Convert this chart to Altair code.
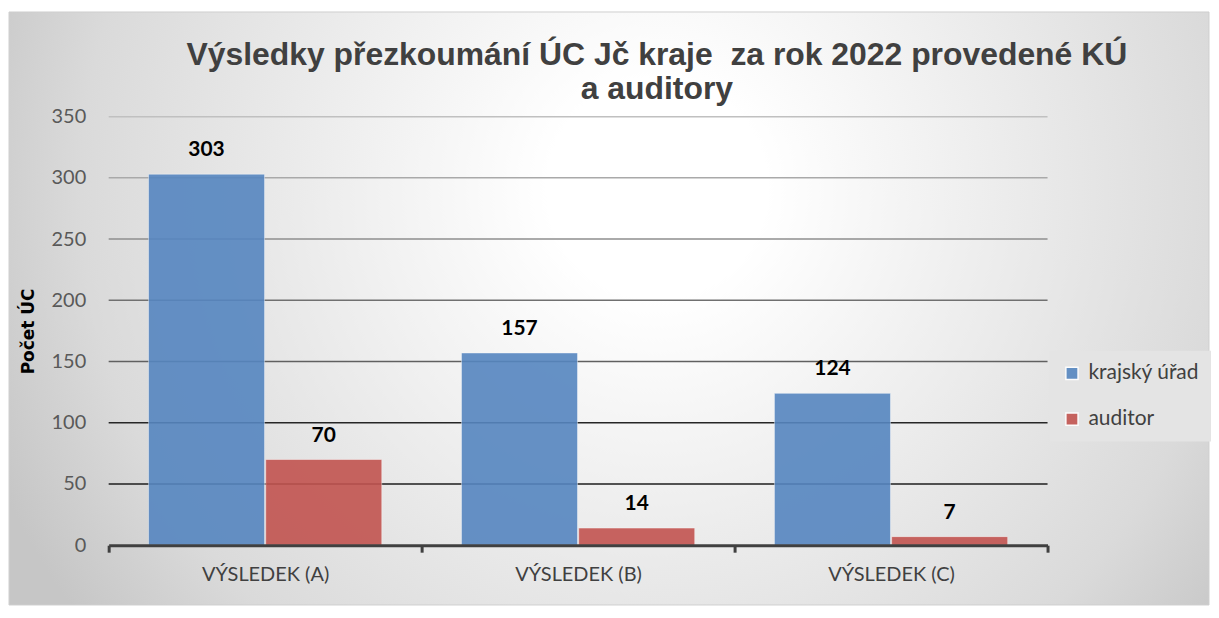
import altair as alt
import pandas as pd

CATEGORIES = ["VÝSLEDEK (A)", "VÝSLEDEK (B)", "VÝSLEDEK (C)"]
SERIES = ["krajský úřad", "auditor"]
KRAJSKY_URAD = [303, 157, 124]
AUDITOR = [70, 14, 7]
Y_TICKS = [0, 50, 100, 150, 200, 250, 300, 350]
TITLE_LINES = ["Výsledky přezkoumání ÚC Jč kraje \u00a0za rok 2022 provedené KÚ", "a auditory"]
Y_TITLE = "Počet ÚC"

rows = []
for i, c in enumerate(CATEGORIES):
    rows.append({"kat": c, "serie": SERIES[0], "pocet": KRAJSKY_URAD[i]})
    rows.append({"kat": c, "serie": SERIES[1], "pocet": AUDITOR[i]})
df = pd.DataFrame(rows)
grid_df = pd.DataFrame({"v": Y_TICKS[1:]})
one = pd.DataFrame({"k": [0]})

W, H = 942, 430
FONT = "Lato"

x_scale = alt.Scale(domain=CATEGORIES, paddingInner=0, paddingOuter=0)
y_scale = alt.Scale(domain=[0, 350], nice=False)
off_scale = alt.Scale(domain=SERIES, paddingOuter=0.34, paddingInner=0.01)

x_axis = alt.Axis(
    title=None, labelAngle=0, tickBand="extent", tickSize=7, tickWidth=3,
    tickColor="#404040", domainColor="#404040", domainWidth=3,
    labelFont=FONT, labelFontSize=20, labelColor="#404040", labelPadding=12,
    grid=False, zindex=1,
)
y_axis = alt.Axis(
    values=Y_TICKS, grid=False, domain=False, ticks=False,
    labelFont=FONT, labelFontSize=20, labelColor="#595959", labelPadding=23,
    title=Y_TITLE, titleFont="DejaVu Sans", titleFontSize=17, titleFontWeight="bold",
    titleColor="black", titleX=-75, titleY=215, titleAngle=270,
    titleBaseline="alphabetic", titleAlign="center", zindex=1,
)

bg = alt.Chart(one).mark_rect(
    fill=alt.Gradient(
        gradient="radial",
        stops=[
            alt.GradientStop(color="#ffffff", offset=0),
            alt.GradientStop(color="#ffffff", offset=0.15),
            alt.GradientStop(color="#dadada", offset=0.8),
            alt.GradientStop(color="#c6c6c6", offset=1),
        ],
        x1=0.54, y1=0.40, r1=0, x2=0.54, y2=0.40, r2=0.6,
    ),
    stroke="#d0d0d0", strokeWidth=1,
).encode(x=alt.value(-100), x2=alt.value(1104), y=alt.value(-105), y2=alt.value(490))

grid = alt.Chart(grid_df).mark_rule(strokeWidth=1.5).encode(
    y=alt.Y("v:Q", scale=y_scale, axis=y_axis),
    x=alt.value(0), x2=alt.value(W),
    stroke=alt.Stroke(
        "v:Q",
        scale=alt.Scale(
            domain=[50, 100, 150, 200, 250, 300, 350],
            range=["#1e1e1e", "#262626", "#606060", "#707070", "#8e8e8e", "#a9a9a9", "#c0c0c0"],
        ),
        legend=None,
    ),
)

bars = alt.Chart(df).mark_bar(opacity=0.9, stroke="white", strokeOpacity=0.45, strokeWidth=1).encode(
    x=alt.X("kat:N", scale=x_scale, axis=x_axis, sort=CATEGORIES),
    xOffset=alt.XOffset("serie:N", scale=off_scale, sort=SERIES),
    y=alt.Y("pocet:Q", scale=y_scale, axis=y_axis),
    color=alt.Color(
        "serie:N",
        scale=alt.Scale(domain=SERIES, range=["#5686c0", "#c25450"]),
        sort=SERIES,
        legend=alt.Legend(
            orient="none", legendX=944, legendY=235, title=None,
            fillColor="#e4e4e4", padding=12, labelFont=FONT, labelFontSize=21,
            labelColor="#404040", symbolType="square", symbolSize=150,
            rowPadding=24, labelOffset=6, zindex=1,
        ),
    ),
)

labels = alt.Chart(df).mark_text(
    dy=-18, baseline="alphabetic", fontSize=21, fontWeight="bold", font=FONT, color="black"
).encode(
    x=alt.X("kat:N", scale=x_scale, axis=x_axis, sort=CATEGORIES),
    xOffset=alt.XOffset("serie:N", scale=off_scale, sort=SERIES),
    y=alt.Y("pocet:Q", scale=y_scale, axis=y_axis),
    text=alt.Text("pocet:Q"),
)

title = alt.Chart(one).mark_text(
    text=TITLE_LINES, font="Liberation Sans", fontSize=32, fontWeight="bold",
    color="#404040", align="center", baseline="alphabetic", lineHeight=34,
).encode(x=alt.value(550), y=alt.value(-52))

chart = alt.layer(bg, grid, bars, labels, title).properties(
    width=W, height=H,
    padding={"left": 0, "top": 2, "right": 0, "bottom": 0},
    background="white",
).configure_view(stroke=None).configure_axisY(
    titleFont="DejaVu Sans", titleFontSize=17, titleFontWeight="bold", titleColor="black"
)

chart.save("out.html", embed_options={"renderer": "svg", "actions": False})
